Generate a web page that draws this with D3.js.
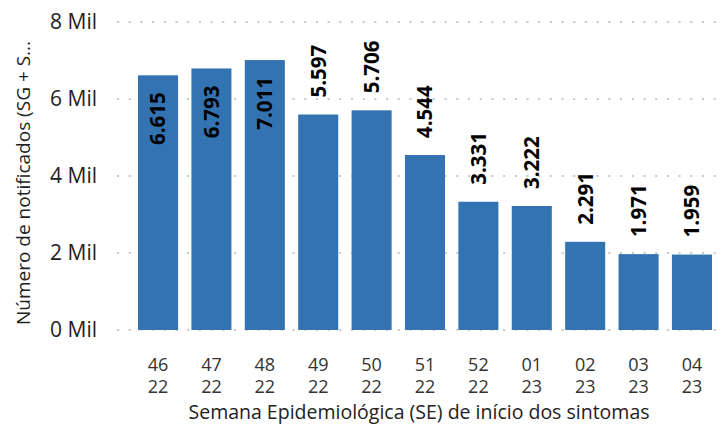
<!DOCTYPE html>
<html>
<head>
<meta charset="utf-8">
<script src="https://cdn.jsdelivr.net/npm/d3@7"></script>
<style>
  html, body { margin: 0; padding: 0; background: #fff; }
  svg { display: block; }
  text { font-family: "Open Sans", "Segoe UI", sans-serif; }
</style>
</head>
<body>
<svg id="chart" width="725" height="425"></svg>
<script>
const weeks = ["46", "47", "48", "49", "50", "51", "52", "01", "02", "03", "04"];
const years = ["22", "22", "22", "22", "22", "22", "22", "23", "23", "23", "23"];
const values = [6615, 6793, 7011, 5597, 5706, 4544, 3331, 3222, 2291, 1971, 1959];
const yTicks = [0, 2000, 4000, 6000, 8000];
const xTitle = "Semana Epidemiológica (SE) de início dos sintomas";
const yTitle = "Número de notificados (SG + S...";

const svg = d3.select("#chart");

const x = d3.scaleBand()
  .domain(d3.range(values.length))
  .range([122, 728])
  .paddingInner(0.25)
  .paddingOuter(0.3);

const y = d3.scaleLinear().domain([0, 8000]).range([330, 22]);

// gridlines
svg.append("g").selectAll("line").data(yTicks).join("line")
  .attr("x1", 117).attr("x2", 723)
  .attr("y1", d => y(d)).attr("y2", d => y(d))
  .attr("stroke", "#c8c8c8")
  .attr("stroke-width", 2)
  .attr("stroke-dasharray", "2 9.7");

// y tick labels
svg.append("g").selectAll("text").data(yTicks).join("text")
  .attr("x", 97).attr("y", d => y(d))
  .attr("dy", "0.35em")
  .attr("text-anchor", "end")
  .attr("font-size", 21)
  .attr("fill", "#222")
  .text(d => (d / 1000) + " Mil");

// bars
svg.append("g").selectAll("rect").data(values).join("rect")
  .attr("x", (d, i) => x(i))
  .attr("width", x.bandwidth())
  .attr("y", d => y(d))
  .attr("height", d => y(0) - y(d))
  .attr("fill", "#3373b2");

// data labels
const fmt = d => d3.format(",")(d).replace(/,/g, ".");
const insideIdx = new Set([0, 1, 2]);
svg.append("g").selectAll("text").data(values).join("text")
  .attr("transform", (d, i) => {
    const cx = x(i) + x.bandwidth() / 2;
    const yy = insideIdx.has(i) ? y(d) + 17 : y(d) - 17;
    return `translate(${cx},${yy}) rotate(-90)`;
  })
  .attr("text-anchor", (d, i) => insideIdx.has(i) ? "end" : "start")
  .attr("dy", "0.36em")
  .attr("font-size", 20.5)
  .attr("font-weight", "bold")
  .attr("fill", "#000")
  .text(d => fmt(d));

// x tick labels (two lines)
const xl = svg.append("g").selectAll("text").data(weeks).join("text")
  .attr("text-anchor", "middle")
  .attr("font-size", 18)
  .attr("fill", "#333");
xl.append("tspan")
  .attr("x", (d, i) => x(i) + x.bandwidth() / 2)
  .attr("y", 371)
  .text(d => d);
xl.append("tspan")
  .attr("x", (d, i) => x(i) + x.bandwidth() / 2)
  .attr("y", 393)
  .text((d, i) => years[i]);

// x title
svg.append("text")
  .attr("x", 419).attr("y", 419.2)
  .attr("text-anchor", "middle")
  .attr("font-size", 19.5)
  .attr("fill", "#222")
  .text(xTitle);

// y title
svg.append("text")
  .attr("transform", "translate(30,325) rotate(-90)")
  .attr("text-anchor", "start")
  .attr("font-size", 19)
  .attr("fill", "#222")
  .text(yTitle);
</script>
</body>
</html>
